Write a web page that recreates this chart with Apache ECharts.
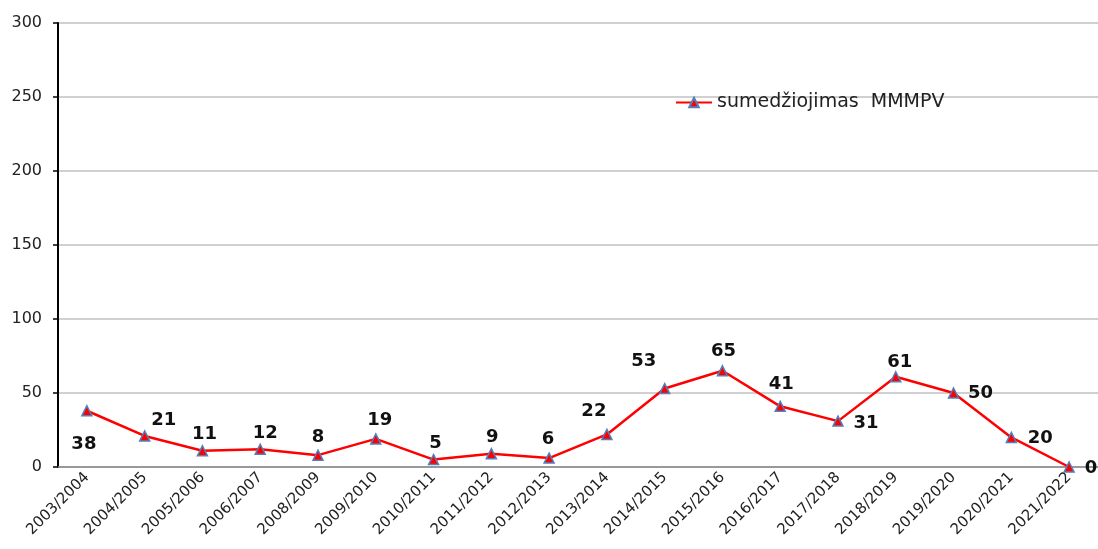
<!DOCTYPE html>
<html>
<head>
<meta charset="utf-8">
<script src="https://cdn.jsdelivr.net/npm/echarts@6/dist/echarts.min.js"></script>
<style>
  html, body { margin: 0; padding: 0; background: #fff; }
  #chart { width: 1098px; height: 549px; }
</style>
</head>
<body>
<div id="chart"></div>
<script>
// duomenys
const seasons = ['2003/2004', '2004/2005', '2005/2006', '2006/2007', '2008/2009', '2009/2010',
  '2010/2011', '2011/2012', '2012/2013', '2013/2014', '2014/2015', '2015/2016',
  '2016/2017', '2017/2018', '2018/2019', '2019/2020', '2020/2021', '2021/2022']
const hunted = [38, 21, 11, 12, 8, 19, 5, 9, 6, 22, 53, 65, 41, 31, 61, 50, 20, 0]
const seriesName = 'sumedžiojimas  MMMPV'

// label offsets relative to each point (style only)
const labelOffsets = [[-3, 34], [19, -16], [2, -16], [5, -16], [0, -18], [4, -19],
  [2, -16], [1, -16], [-1, -19], [-13, -23], [-21, -27], [1, -19],
  [1, -22], [28, 2], [4, -14], [27, 0], [29, 1], [22, 1]]

const font = 'DejaVu Sans, Verdana, sans-serif'
const chart = echarts.init(document.getElementById('chart'))

const option = {
  animation: false,
  textStyle: { fontFamily: font },
  grid: { left: 58, top: 23, width: 1043, height: 444, containLabel: false },
  legend: {
    left: 670,
    top: 88,
    itemWidth: 36,
    itemHeight: 12,
    textStyle: { fontSize: 19, color: '#222', fontFamily: font },
    data: [seriesName]
  },
  xAxis: {
    type: 'category',
    data: seasons,
    boundaryGap: true,
    axisLine: { lineStyle: { color: '#868686', width: 1.5 } },
    axisTick: { length: 5, lineStyle: { color: '#868686' } },
    axisLabel: { rotate: 45, fontSize: 15, color: '#222', margin: 8, interval: 0 }
  },
  yAxis: {
    type: 'value',
    min: 0,
    max: 300,
    interval: 50,
    axisLine: { show: true, lineStyle: { color: '#000', width: 2 } },
    axisTick: { show: true, length: 5, lineStyle: { color: '#000', width: 1.5 } },
    axisLabel: { fontSize: 16, color: '#222', margin: 16 },
    splitLine: { lineStyle: { color: '#c0c0c0', width: 1.5 } }
  },
  series: [
    {
      name: seriesName,
      type: 'line',
      data: hunted.map((v, i) => ({
        value: v,
        label: { offset: labelOffsets[i] }
      })),
      lineStyle: { color: '#ff0000', width: 2.5 },
      itemStyle: { color: '#ff0000', borderColor: '#4f81bd', borderWidth: 1.5 },
      symbol: 'triangle',
      symbolSize: 10,
      showAllSymbol: true,
      label: {
        show: true,
        position: 'inside',
        fontSize: 18,
        fontWeight: 'bold',
        color: '#111'
      }
    }
  ]
}

chart.setOption(option)
</script>
</body>
</html>
